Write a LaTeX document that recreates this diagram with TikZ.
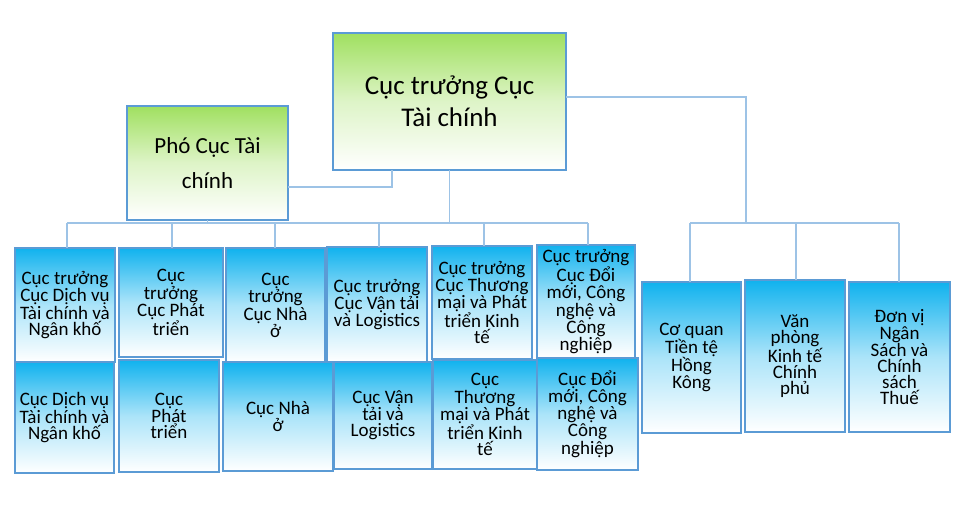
\documentclass[tikz,border=0pt]{standalone}
\usepackage{fontspec}
\setmainfont{Carlito}
\definecolor{bordc}{RGB}{91,155,213}
\definecolor{linec}{RGB}{157,195,230}
\definecolor{bluetop}{RGB}{16,178,238}
\definecolor{greentop}{RGB}{160,224,96}
\tikzset{
  box/.style={draw=bordc, line width=1.4pt, rectangle, inner sep=0pt, outer sep=0pt, align=center, text=black},
  bluebox/.style={box, top color=bluetop, bottom color=white, middle color=bluetop!35!white, font=\fontsize{19}{16}\selectfont},
  greenbox/.style={box, top color=greentop, bottom color=white, middle color=greentop!35!white},
  conn/.style={draw=linec, line width=1.3pt}
}
\begin{document}
\begin{tikzpicture}[x=1pt,y=-1pt]
\useasboundingbox (0,0) rectangle (960,516);
% coordinates for connector bus lines
\coordinate (busL) at (67,223);
\coordinate (busR) at (588,223);
\coordinate (rbusL) at (690,223);
\coordinate (rbusR) at (899,223);
\coordinate (rdrop) at (746,223);
\coordinate (pbend) at (392,187);

% nodes
\node[greenbox, minimum width=233pt, minimum height=137pt, font=\fontsize{27}{32}\selectfont] (top) at (449.5,101.5) {Cục trưởng Cục\\Tài chính};
\node[greenbox, minimum width=161pt, minimum height=114pt, font=\fontsize{23}{35}\selectfont] (pho) at (207.5,163) {Phó Cục Tài\\chính};

% row 1
\node[bluebox, minimum width=100pt, minimum height=114pt] (a1) at (65,305) {Cục trưởng\\Cục Dịch vụ\\Tài chính và\\Ngân khố};
\node[bluebox, minimum width=104pt, minimum height=109pt] (b1) at (171,302.5) {Cục\\trưởng\\Cục Phát\\triển};
\node[bluebox, minimum width=99pt, minimum height=115pt] (c1) at (275.5,305.5) {Cục\\trưởng\\Cục Nhà\\ở};
\node[bluebox, minimum width=100pt, minimum height=115pt] (d1) at (377,304.5) {Cục trưởng\\Cục Vận tải\\và Logistics};
\node[bluebox, minimum width=100pt, minimum height=113pt] (e1) at (482,302.5) {Cục trưởng\\Cục Thương\\mại và Phát\\triển Kinh\\tế};
\node[bluebox, minimum width=98pt, minimum height=113pt] (f1) at (586,301.5) {Cục trưởng\\Cục Đổi\\mới, Công\\nghệ và\\Công\\nghiệp};
% row 2
\node[bluebox, minimum width=99pt, minimum height=111pt] (a2) at (64.5,417.5) {Cục Dịch vụ\\Tài chính và\\Ngân khố};
\node[bluebox, minimum width=100pt, minimum height=112pt] (b2) at (169,416) {Cục\\Phát\\triển};
\node[bluebox, minimum width=110pt, minimum height=109pt] (c2) at (278,416.5) {Cục Nhà\\ở};
\node[bluebox, minimum width=98pt, minimum height=107pt] (d2) at (383,415.5) {Cục Vận\\tải và\\Logistics};
\node[bluebox, minimum width=104pt, minimum height=109pt] (e2) at (485,414.5) {Cục\\Thương\\mại và Phát\\triển Kinh\\tế};
\node[bluebox, minimum width=101pt, minimum height=112pt] (f2) at (587.5,414) {Cục Đổi\\mới, Công\\nghệ và\\Công\\nghiệp};
% right group
\node[bluebox, minimum width=99pt, minimum height=151pt] (r1) at (691.5,357.5) {Cơ quan\\Tiền tệ\\Hồng\\Kông};
\node[bluebox, minimum width=100pt, minimum height=152pt] (r2) at (795,356) {Văn\\phòng\\Kinh tế\\Chính\\phủ};
\node[bluebox, minimum width=101pt, minimum height=150pt] (r3) at (899.5,357) {Đơn vị\\Ngân\\Sách và\\Chính\\sách\\Thuế};

% connectors
\draw[conn] (top.south) -- (top.south |- busL);
\draw[conn] (busL) -- (busR);
\draw[conn] (pho.south) -- (pho.south |- busL);
\draw[conn] (pho.east |- pbend) -- (pbend) -- (pbend |- top.south);
\draw[conn] (busL) -- (busL |- a1.north);
\draw[conn] (172,223) -- (172,223 |- b1.north);
\draw[conn] (275,223) -- (275,223 |- c1.north);
\draw[conn] (379,223) -- (379,223 |- d1.north);
\draw[conn] (484,223) -- (484,223 |- e1.north);
\draw[conn] (busR) -- (busR |- f1.north);
\draw[conn] (top.east |- 0,97) -- (746,97) -- (rdrop);
\draw[conn] (rbusL) -- (rbusR);
\draw[conn] (rbusL) -- (rbusL |- r1.north);
\draw[conn] (796,223) -- (796,223 |- r2.north);
\draw[conn] (rbusR) -- (rbusR |- r3.north);
\end{tikzpicture}
\end{document}
